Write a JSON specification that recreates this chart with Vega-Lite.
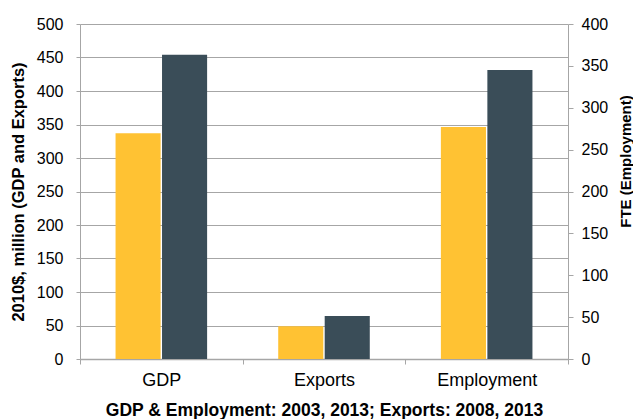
{
  "$schema": "https://vega.github.io/schema/vega-lite/v6.json",
  "width": 488,
  "height": 335,
  "autosize": {"type": "none"},
  "padding": {"left": 80, "top": 24, "right": 65, "bottom": 60},
  "background": "white",
  "config": {
    "view": {"stroke": null},
    "font": "Liberation Sans",
    "axis": {
      "domainColor": "#A6A6A6",
      "tickColor": "#A6A6A6",
      "gridColor": "#A6A6A6",
      "labelColor": "#000000",
      "titleColor": "#000000",
      "labelFont": "Liberation Sans",
      "titleFont": "Liberation Sans",
      "titleFontWeight": "bold"
    }
  },
  "data": {
    "values": [
      {"category": "GDP", "series": "Earlier", "value": 337},
      {"category": "GDP", "series": "2013", "value": 454},
      {"category": "Exports", "series": "Earlier", "value": 49},
      {"category": "Exports", "series": "2013", "value": 64},
      {"category": "Employment", "series": "Earlier", "value": 277},
      {"category": "Employment", "series": "2013", "value": 345}
    ]
  },
  "encoding": {
    "x": {
      "field": "category",
      "type": "nominal",
      "scale": {"domain": ["GDP", "Exports", "Employment"], "paddingInner": 0, "paddingOuter": 0},
      "title": "GDP & Employment: 2003, 2013; Exports: 2008, 2013",
      "axis": {
        "labelAngle": 0,
        "labelFontSize": 18,
        "titleFontSize": 17.5,
        "tickBand": "extent",
        "tickSize": 5,
        "labelPadding": 7,
        "titlePadding": 12,
        "domainWidth": 1.5
      }
    },
    "xOffset": {
      "field": "series",
      "type": "nominal",
      "scale": {"domain": ["Earlier", "2013"], "paddingInner": 0.03, "paddingOuter": 0.765}
    },
    "color": {
      "field": "series",
      "type": "nominal",
      "scale": {"domain": ["Earlier", "2013"], "range": ["#FFC233", "#3A4D58"]},
      "legend": null
    }
  },
  "layer": [
    {
      "transform": [{"filter": "datum.category != 'Employment'"}],
      "mark": {"type": "bar"},
      "encoding": {
        "y": {
          "field": "value",
          "type": "quantitative",
          "scale": {"domain": [0, 500], "nice": false},
          "title": "2010$, million (GDP and Exports)",
          "axis": {
            "values": [0, 50, 100, 150, 200, 250, 300, 350, 400, 450, 500],
            "grid": true,
            "labelFontSize": 16,
            "titleFontSize": 16.5,
            "tickSize": 4,
            "labelPadding": 13,
            "titlePadding": 10
          }
        }
      }
    },
    {
      "transform": [{"filter": "datum.category == 'Employment'"}],
      "mark": {"type": "bar"},
      "encoding": {
        "y": {
          "field": "value",
          "type": "quantitative",
          "scale": {"domain": [0, 400], "nice": false},
          "title": "FTE (Employment)",
          "axis": {
            "orient": "right",
            "values": [0, 50, 100, 150, 200, 250, 300, 350, 400],
            "grid": false,
            "labelFontSize": 16,
            "titleFontSize": 15,
            "titleAngle": -90,
            "titleAlign": "center",
            "titleBaseline": "middle",
            "titleX": 57,
            "titleY": 137,
            "tickSize": 5,
            "labelPadding": 8
          }
        }
      }
    }
  ],
  "resolve": {"scale": {"y": "independent"}}
}
